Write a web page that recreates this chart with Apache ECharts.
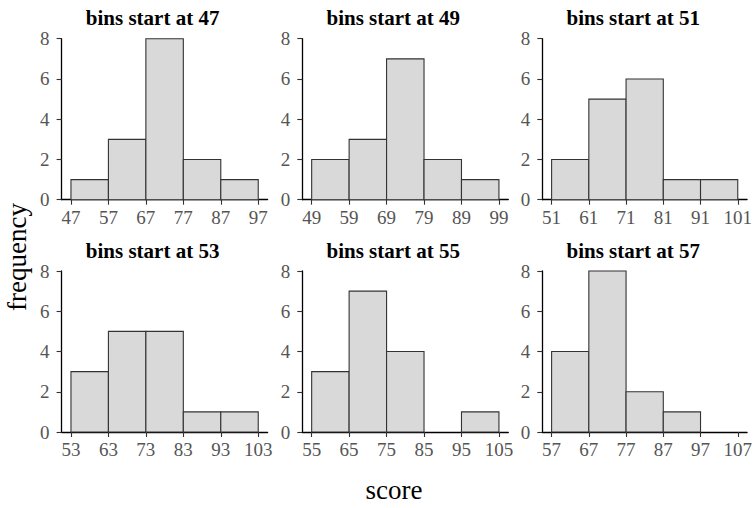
<!DOCTYPE html>
<html>
<head>
<meta charset="utf-8">
<script src="https://cdn.jsdelivr.net/npm/echarts@6/dist/echarts.min.js"></script>
<style>
  html, body { margin: 0; padding: 0; background: #fff; }
  #chart { width: 755px; height: 508px; }
</style>
</head>
<body>
<div id="chart"></div>
<script>
// Histograms of the same scores with different bin starting points (bin width 10)
const binStarts = [47, 49, 51, 53, 55, 57];
const binWidth = 10;

const counts47 = [1, 3, 8, 2, 1];
const counts49 = [2, 3, 7, 2, 1];
const counts51 = [2, 5, 6, 1, 1];
const counts53 = [3, 5, 5, 1, 1];
const counts55 = [3, 7, 4, 0, 1];
const counts57 = [4, 8, 2, 1, 0];
const panelCounts = [counts47, counts49, counts51, counts53, counts55, counts57];

const xTicks47 = [47, 57, 67, 77, 87, 97];
const xTicks49 = [49, 59, 69, 79, 89, 99];
const xTicks51 = [51, 61, 71, 81, 91, 101];
const xTicks53 = [53, 63, 73, 83, 93, 103];
const xTicks55 = [55, 65, 75, 85, 95, 105];
const xTicks57 = [57, 67, 77, 87, 97, 107];
const panelTicks = [xTicks47, xTicks49, xTicks51, xTicks53, xTicks55, xTicks57];

const yTicks = [0, 2, 4, 6, 8];

const xLabel = 'score';
const yLabel = 'frequency';
const titlePrefix = 'bins start at ';

// Layout of the 3 x 2 panel grid
const colLeft = [61.6, 302.3, 542.3];
const rowTop = [38.7, 271];
const panelW = 206;
const panelH = 161;
const serif = "'Liberation Serif', 'DejaVu Serif', serif";

const chart = echarts.init(document.getElementById('chart'), null, { renderer: 'svg' });

function renderBin(params, api) {
  const lo = api.value(0), hi = api.value(1), n = api.value(2);
  if (!n) return null;
  const a = api.coord([lo, 0]);
  const b = api.coord([hi, n]);
  return {
    type: 'rect',
    shape: { x: a[0], y: b[1], width: b[0] - a[0], height: a[1] - b[1] },
    style: { fill: '#d9d9d9', stroke: '#333333', lineWidth: 1.1 }
  };
}

const grids = [], xAxes = [], yAxes = [], series = [], graphics = [];

binStarts.forEach((start, i) => {
  const col = i % 3, row = Math.floor(i / 3);
  grids.push({ left: colLeft[col], top: rowTop[row], width: panelW, height: panelH });

  xAxes.push({
    type: 'value', gridIndex: i,
    min: start - 2.5, max: start + 52.5,
    axisLine: { show: true, lineStyle: { color: '#000', width: 1.3 } },
    axisTick: { show: true, length: 5, customValues: panelTicks[i], lineStyle: { color: '#333', width: 1.1 } },
    axisLabel: { customValues: panelTicks[i], color: '#555', fontFamily: serif, fontSize: 19, margin: 8 },
    splitLine: { show: false }
  });

  yAxes.push({
    type: 'value', gridIndex: i,
    min: 0, max: 8, interval: 2,
    axisLine: { show: true, lineStyle: { color: '#000', width: 1.3 } },
    axisTick: { show: true, length: 5, customValues: yTicks, lineStyle: { color: '#333', width: 1.1 } },
    axisLabel: { customValues: yTicks, color: '#555', fontFamily: serif, fontSize: 19, margin: 12 },
    splitLine: { show: false }
  });

  const bins = panelCounts[i].map((n, k) => [start + k * binWidth, start + (k + 1) * binWidth, n]);
  series.push({
    type: 'custom', xAxisIndex: i, yAxisIndex: i,
    renderItem: renderBin,
    encode: { x: [0, 1], y: 2 },
    data: bins,
    z: 1
  });

  graphics.push({
    type: 'text',
    x: colLeft[col] + panelW / 2 - 12,
    y: row === 0 ? 17.5 : 250.5,
    style: {
      text: titlePrefix + start,
      font: "bold 21px " + serif,
      fill: '#000',
      textAlign: 'center',
      textVerticalAlign: 'middle'
    }
  });
});

graphics.push({
  type: 'text', x: 394, y: 490,
  style: { text: xLabel, font: "27px " + serif, fill: '#000', textAlign: 'center', textVerticalAlign: 'middle' }
});
graphics.push({
  type: 'text', x: 17, y: 257, rotation: Math.PI / 2,
  style: { text: yLabel, font: "27px " + serif, fill: '#000', textAlign: 'center', textVerticalAlign: 'middle' }
});

chart.setOption({
  animation: false,
  backgroundColor: '#fff',
  grid: grids,
  xAxis: xAxes,
  yAxis: yAxes,
  series: series,
  graphic: graphics
});
</script>
</body>
</html>
